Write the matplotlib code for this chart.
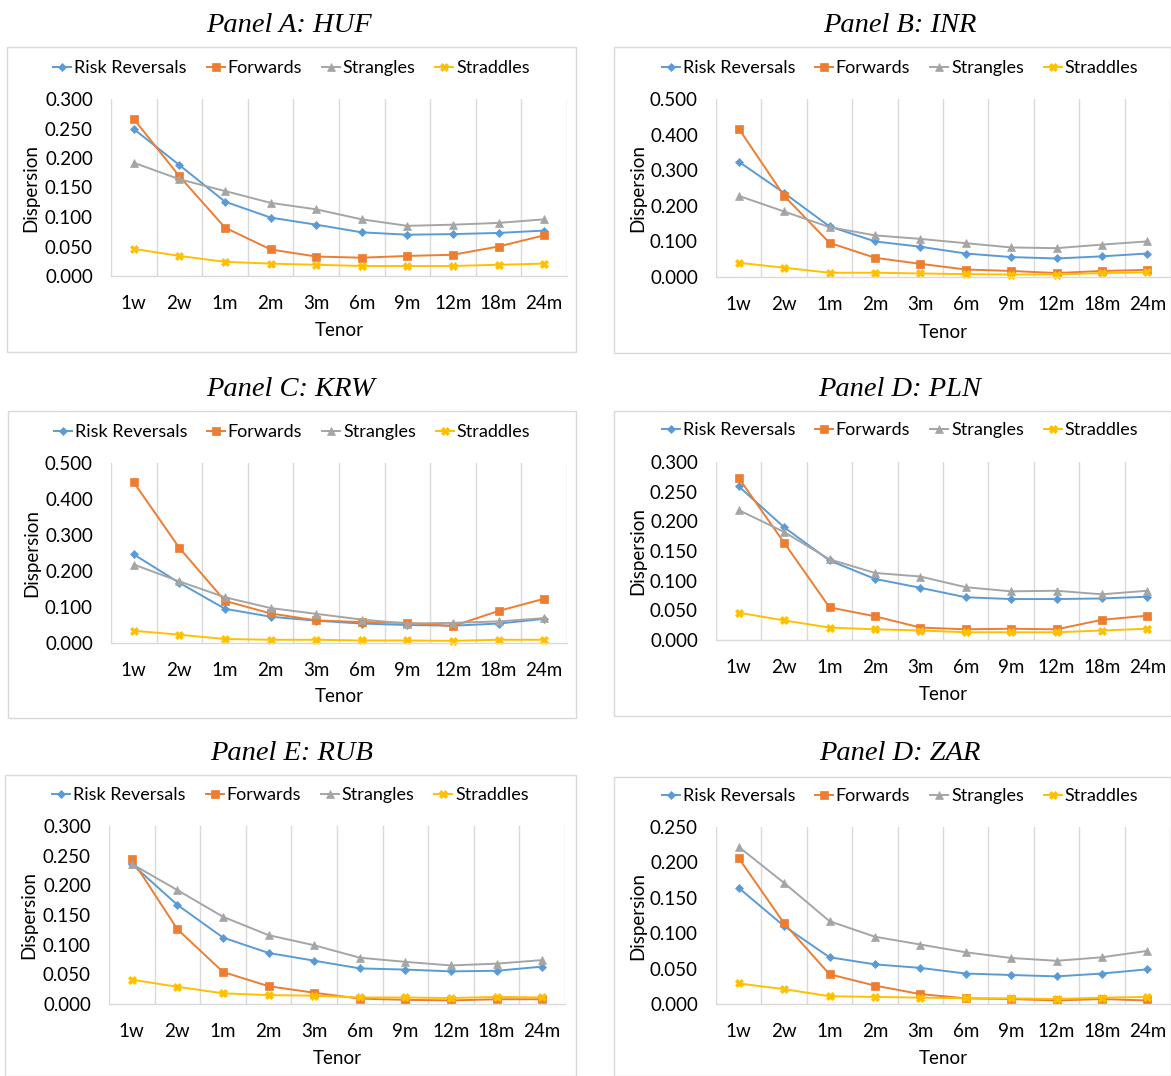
import numpy as np
import matplotlib
matplotlib.use("Agg")
import matplotlib.pyplot as plt
from matplotlib.patches import Rectangle
from matplotlib.ticker import FixedLocator

plt.rcParams['font.family'] = ['Lato', 'DejaVu Sans']

tenors = ["1w", "2w", "1m", "2m", "3m", "6m", "9m", "12m", "18m", "24m"]
series_names = ["Risk Reversals", "Forwards", "Strangles", "Straddles"]
panel_titles = ["Panel A: HUF", "Panel B: INR", "Panel C: KRW",
                "Panel D: PLN", "Panel E: RUB", "Panel D: ZAR"]

huf_rr = [0.249, 0.188, 0.126, 0.099, 0.087, 0.074, 0.070, 0.071, 0.073, 0.077]
huf_fwd = [0.266, 0.169, 0.082, 0.045, 0.033, 0.031, 0.034, 0.036, 0.050, 0.069]
huf_str = [0.192, 0.164, 0.144, 0.124, 0.113, 0.096, 0.085, 0.087, 0.090, 0.096]
huf_std = [0.046, 0.034, 0.024, 0.021, 0.019, 0.017, 0.017, 0.017, 0.019, 0.021]

inr_rr = [0.324, 0.236, 0.142, 0.100, 0.085, 0.066, 0.056, 0.052, 0.058, 0.066]
inr_fwd = [0.417, 0.228, 0.096, 0.054, 0.037, 0.021, 0.017, 0.011, 0.017, 0.020]
inr_str = [0.228, 0.184, 0.140, 0.117, 0.107, 0.095, 0.083, 0.081, 0.091, 0.100]
inr_std = [0.040, 0.026, 0.012, 0.012, 0.010, 0.008, 0.007, 0.007, 0.011, 0.013]

krw_rr = [0.246, 0.167, 0.095, 0.073, 0.062, 0.054, 0.050, 0.048, 0.054, 0.067]
krw_fwd = [0.446, 0.264, 0.117, 0.082, 0.063, 0.058, 0.056, 0.047, 0.089, 0.123]
krw_str = [0.218, 0.171, 0.127, 0.097, 0.081, 0.065, 0.054, 0.056, 0.060, 0.069]
krw_std = [0.034, 0.023, 0.011, 0.009, 0.009, 0.007, 0.007, 0.006, 0.009, 0.009]

pln_rr = [0.259, 0.190, 0.134, 0.103, 0.088, 0.072, 0.069, 0.069, 0.070, 0.073]
pln_fwd = [0.273, 0.164, 0.055, 0.040, 0.021, 0.018, 0.019, 0.018, 0.034, 0.041]
pln_str = [0.219, 0.182, 0.136, 0.113, 0.107, 0.089, 0.082, 0.083, 0.077, 0.083]
pln_std = [0.046, 0.033, 0.021, 0.018, 0.016, 0.013, 0.013, 0.013, 0.016, 0.019]

rub_rr = [0.236, 0.167, 0.112, 0.086, 0.073, 0.060, 0.058, 0.055, 0.056, 0.063]
rub_fwd = [0.244, 0.126, 0.054, 0.030, 0.019, 0.009, 0.007, 0.006, 0.008, 0.008]
rub_str = [0.236, 0.192, 0.147, 0.116, 0.099, 0.078, 0.071, 0.065, 0.068, 0.074]
rub_std = [0.041, 0.029, 0.018, 0.015, 0.014, 0.011, 0.011, 0.010, 0.012, 0.011]

zar_rr = [0.164, 0.110, 0.066, 0.056, 0.051, 0.043, 0.041, 0.039, 0.043, 0.049]
zar_fwd = [0.206, 0.114, 0.042, 0.026, 0.014, 0.008, 0.007, 0.005, 0.007, 0.005]
zar_str = [0.222, 0.171, 0.117, 0.095, 0.084, 0.073, 0.065, 0.061, 0.066, 0.075]
zar_std = [0.029, 0.021, 0.011, 0.010, 0.009, 0.008, 0.008, 0.007, 0.009, 0.010]

panel_data = [
    (huf_rr, huf_fwd, huf_str, huf_std),
    (inr_rr, inr_fwd, inr_str, inr_std),
    (krw_rr, krw_fwd, krw_str, krw_std),
    (pln_rr, pln_fwd, pln_str, pln_std),
    (rub_rr, rub_fwd, rub_str, rub_std),
    (zar_rr, zar_fwd, zar_str, zar_std),
]
y_max = [0.30, 0.50, 0.50, 0.30, 0.30, 0.25]
y_step = [0.05, 0.10, 0.10, 0.05, 0.05, 0.05]

colors = ["#5B9BD5", "#ED7D31", "#A5A5A5", "#FFC000"]
markers = ["D", "s", "^", "X"]
msizes = [4.5, 5.5, 5.5, 5.5]

W, H = 1171, 1076
fig = plt.figure(figsize=(W / 100, H / 100), dpi=100)

# layout in pixels
boxes = [(7, 47, 576, 352), (614, 47, 1171, 353), (8, 411, 576, 718),
         (614, 411, 1171, 716), (5, 775, 576, 1076), (614, 777, 1171, 1076)]
plots = [(111, 99, 567, 276), (716, 99, 1170, 277), (111, 463, 567, 643),
         (716, 462, 1170, 640), (109, 826, 565, 1004), (716, 827, 1170, 1004)]
title_pos = [(289, 25), (900, 25), (291, 390), (900, 389), (292, 753), (900, 754)]
legend_y = [68, 68, 432, 430, 795, 796]
tenor_y = [331, 332, 697, 695, 1059, 1059]
disp_x = [31, 638, 32, 638, 29, 638]


def fx(x):
    return x / W


def fy(y):
    return 1 - y / H


x = np.arange(len(tenors))
for i in range(6):
    bx0, by0, bx1, by1 = boxes[i]
    fig.add_artist(Rectangle((fx(bx0), fy(by1)), fx(bx1 - bx0), (by1 - by0) / H,
                             transform=fig.transFigure, fill=False,
                             edgecolor="#d9d9d9", linewidth=1.0))
    px0, py0, px1, py1 = plots[i]
    ax = fig.add_axes([fx(px0), fy(py1), fx(px1 - px0), (py1 - py0) / H])
    handles = []
    for j, vals in enumerate(panel_data[i]):
        h, = ax.plot(x, vals, color=colors[j], marker=markers[j], markersize=msizes[j],
                     linewidth=1.4, label=series_names[j], clip_on=False,
                     markeredgewidth=0.5, markeredgecolor=colors[j])
        handles.append(h)
    ax.set_xlim(-0.5, len(tenors) - 0.5)
    ax.set_ylim(0, y_max[i])
    ticks = np.arange(0, y_max[i] + 1e-9, y_step[i])
    ax.set_yticks(ticks)
    ax.set_yticklabels(["{:.3f}".format(v) for v in ticks])
    ax.set_xticks(x)
    ax.set_xticklabels(tenors)
    ax.xaxis.set_minor_locator(FixedLocator(np.arange(-0.5, len(tenors), 1.0)))
    ax.grid(which="minor", axis="x", color="#d9d9d9", linewidth=1.0)
    ax.set_axisbelow(True)
    ax.tick_params(which="both", length=0)
    ax.tick_params(axis="y", labelsize=13.5, pad=13, colors="#000000")
    ax.tick_params(axis="x", labelsize=13.5, pad=14)
    for s in ["top", "right", "left"]:
        ax.spines[s].set_visible(False)
    ax.spines["bottom"].set_color("#d9d9d9")
    ax.spines["bottom"].set_linewidth(1.0)

    tx, ty = title_pos[i]
    fig.text(fx(tx), fy(ty), panel_titles[i], ha="center", va="center",
             fontsize=20.5, style="italic", family="Liberation Serif")
    fig.text(fx((px0 + px1) / 2), fy(tenor_y[i]), "Tenor",
             ha="center", va="center", fontsize=13.5)
    fig.text(fx(disp_x[i]), fy((py0 + py1) / 2), "Dispersion", rotation=90,
             ha="center", va="center", fontsize=13.5)
    cx = (bx0 + bx1) / 2 if i % 2 == 0 else 900
    fig.legend(handles=handles, loc="center", bbox_to_anchor=(fx(cx), fy(legend_y[i])),
               ncol=4, frameon=False, fontsize=13, handlelength=1.0,
               handletextpad=0.15, columnspacing=1.1, borderpad=0, borderaxespad=0)

fig.savefig("out.png", dpi=100)
